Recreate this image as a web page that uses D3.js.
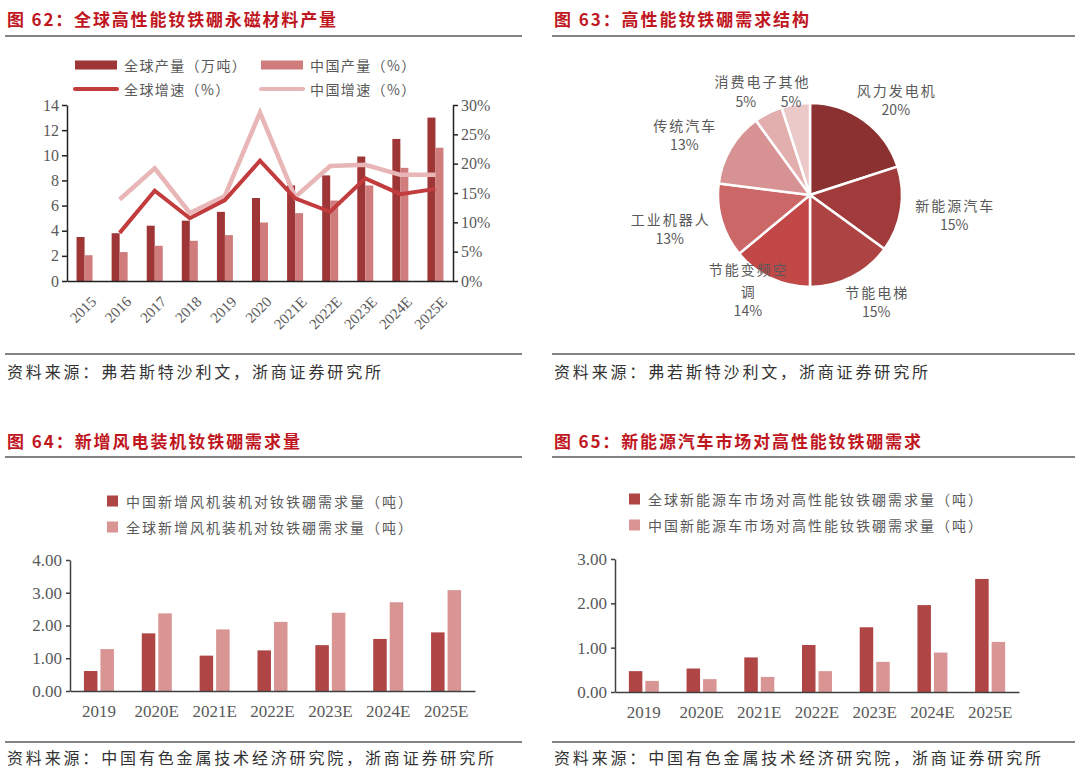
<!DOCTYPE html>
<meta charset="utf-8">
<html lang="zh"></html>
<script src="https://d3js.org/d3.v7.min.js"></script>
<style>
  body { margin: 0; background: #fff; }
  text { font-family: "Noto Sans CJK SC", sans-serif; }
  .num { font-family: "Liberation Serif", "DejaVu Serif", serif; fill: #595959; }
</style>
<div id="chart"></div>
<script>

    // ---- data ----
    // fig 62
    const years62 = ["2015", "2016", "2017", "2018", "2019", "2020", "2021E", "2022E", "2023E", "2024E", "2025E"];
    const globalOutput = [3.5, 3.8, 4.4, 4.8, 5.5, 6.6, 7.6, 8.4, 9.9, 11.3, 13.0];
    const chinaOutput = [2.05, 2.3, 2.8, 3.2, 3.65, 4.65, 5.4, 6.4, 7.6, 9.0, 10.6];
    const globalGrowth = [null, 8.2, 15.4, 10.7, 13.8, 20.5, 14.1, 11.8, 17.5, 14.8, 15.7];
    const chinaGrowth = [null, 13.9, 19.2, 11.6, 14.5, 28.7, 14.3, 19.6, 19.8, 18.1, 18.1];
    const legend62 = ["全球产量（万吨）", "中国产量（%）", "全球增速（%）", "中国增速（%）"];

    // fig 63
    const pieNames = ["风力发电机", "新能源汽车", "节能电梯", "节能变频空调", "工业机器人", "传统汽车", "消费电子", "其他"];
    const pieValues = [20, 15, 15, 14, 13, 13, 5, 5];
    const pieColors = ["#8c3131", "#a13a3a", "#ae4343", "#c24848", "#cc6767", "#d79393", "#e2aeae", "#ebc9c9"];

    // fig 64
    const years64 = ["2019", "2020E", "2021E", "2022E", "2023E", "2024E", "2025E"];
    const chinaWind = [0.61, 1.76, 1.08, 1.24, 1.40, 1.59, 1.79];
    const globalWind = [1.28, 2.37, 1.88, 2.11, 2.39, 2.71, 3.08];
    const legend64 = ["中国新增风机装机对钕铁硼需求量（吨）", "全球新增风机装机对钕铁硼需求量（吨）"];

    // fig 65
    const globalNev = [0.47, 0.53, 0.78, 1.06, 1.46, 1.96, 2.55];
    const chinaNev = [0.25, 0.29, 0.34, 0.47, 0.68, 0.89, 1.13];
    const legend65 = ["全球新能源车市场对高性能钕铁硼需求量（吨）", "中国新能源车市场对高性能钕铁硼需求量（吨）"];

    const titles = ["图 62：全球高性能钕铁硼永磁材料产量", "图 63：高性能钕铁硼需求结构",
                    "图 64：新增风电装机钕铁硼需求量", "图 65：新能源汽车市场对高性能钕铁硼需求"];
    const sources = ["资料来源：弗若斯特沙利文，浙商证券研究所", "资料来源：弗若斯特沙利文，浙商证券研究所",
                     "资料来源：中国有色金属技术经济研究院，浙商证券研究所", "资料来源：中国有色金属技术经济研究院，浙商证券研究所"];

    const svg = d3.select("#chart")
        .append("svg")
            .attr("width", 1080)
            .attr("height", 783);
    svg.append("rect").attr("width", 1080).attr("height", 783).attr("fill", "#fff");

    // ---- panel frames: titles, rules, sources ----
    const panels = [
        {x0: 5, x1: 522, ty: 18, ly: 36, sy: 354, cy: 371, tw: 329, sw: 374},
        {x0: 552, x1: 1075, ty: 18, ly: 36, sy: 354, cy: 371, tw: 255, sw: 374},
        {x0: 5, x1: 522, ty: 440, ly: 457, sy: 742, cy: 757, tw: 293, sw: 487},
        {x0: 552, x1: 1075, ty: 440, ly: 457, sy: 742, cy: 757, tw: 367, sw: 487}
    ];
    panels.forEach(function(p, i) {
        svg.append("text")
            .attr("x", p.x0 + 2).attr("y", p.ty)
            .attr("dominant-baseline", "central")
            .attr("fill", "#c0171f")
            .attr("font-weight", "bold")
            .attr("font-size", "17px")
            .attr("textLength", p.tw)
            .attr("lengthAdjust", "spacing")
            .text(titles[i]);
        svg.append("line")
            .attr("x1", p.x0).attr("x2", p.x1).attr("y1", p.ly).attr("y2", p.ly)
            .attr("stroke", "#5a5a5a").attr("stroke-width", 1.6);
        svg.append("line")
            .attr("x1", p.x0).attr("x2", p.x1).attr("y1", p.sy).attr("y2", p.sy)
            .attr("stroke", "#5a5a5a").attr("stroke-width", 1.6);
        svg.append("text")
            .attr("x", p.x0 + 2).attr("y", p.cy)
            .attr("dominant-baseline", "central")
            .attr("fill", "#333")
            .attr("font-size", "16px")
            .attr("textLength", p.sw)
            .attr("lengthAdjust", "spacing")
            .text(sources[i]);
    });

    function styleAxis(g, color) {
        g.select(".domain").attr("stroke", color).attr("stroke-width", 1.5);
        g.selectAll(".tick line").attr("stroke", color).attr("stroke-width", 1.5);
        g.selectAll(".tick text").attr("class", "num").attr("fill", "#595959");
    }

    // ---- fig 62 ----
    const x62 = d3.scaleBand().domain(years62).range([67, 453]);
    const yL62 = d3.scaleLinear().domain([0, 14]).range([281, 105]);
    const yR62 = d3.scaleLinear().domain([0, 30]).range([281, 105]);
    const bw62 = 8;
    const cx62 = function(d) { return x62(d) + x62.bandwidth() / 2; };

    svg.append("g").selectAll("rect.g")
        .data(years62).enter().append("rect")
            .attr("x", function(d) { return cx62(d) - bw62; })
            .attr("y", function(d, i) { return yL62(globalOutput[i]); })
            .attr("width", bw62)
            .attr("height", function(d, i) { return yL62(0) - yL62(globalOutput[i]); })
            .attr("fill", "#9e3536");
    svg.append("g").selectAll("rect.c")
        .data(years62).enter().append("rect")
            .attr("x", function(d) { return cx62(d); })
            .attr("y", function(d, i) { return yL62(chinaOutput[i]); })
            .attr("width", bw62)
            .attr("height", function(d, i) { return yL62(0) - yL62(chinaOutput[i]); })
            .attr("fill", "#d07c7c");

    const line62 = function(vals) {
        return d3.line()
            .defined(function(d, i) { return vals[i] !== null; })
            .x(function(d) { return cx62(d); })
            .y(function(d, i) { return yR62(vals[i]); })(years62);
    };
    svg.append("path").attr("d", line62(chinaGrowth))
        .attr("fill", "none").attr("stroke", "#e8b6b6").attr("stroke-width", 4.5);
    svg.append("path").attr("d", line62(globalGrowth))
        .attr("fill", "none").attr("stroke", "#c23b3d").attr("stroke-width", 4);

    const axL62 = svg.append("g")
        .attr("transform", "translate(67,0)")
        .call(d3.axisLeft(yL62).tickValues(d3.range(0, 15, 2)).tickSize(5).tickSizeOuter(0).tickPadding(3));
    styleAxis(axL62, "#222");
    axL62.selectAll(".tick text").attr("font-size", "16px");
    const axR62 = svg.append("g")
        .attr("transform", "translate(453,0)")
        .call(d3.axisRight(yR62).tickValues(d3.range(0, 31, 5)).tickSize(5).tickSizeOuter(0).tickPadding(3)
            .tickFormat(function(d) { return d + "%"; }));
    styleAxis(axR62, "#222");
    axR62.selectAll(".tick text").attr("font-size", "16px");
    const axB62 = svg.append("g")
        .attr("transform", "translate(0,281)")
        .call(d3.axisBottom(x62).tickSize(0).tickSizeOuter(0));
    styleAxis(axB62, "#222");
    axB62.selectAll(".tick text")
        .attr("font-size", "15px")
        .attr("text-anchor", "end")
        .attr("transform", "translate(3,12)rotate(-45)");

    // legend 62
    const leg62 = [
        {x: 75, y: 65, type: "rect", color: "#9e3536"},
        {x: 261, y: 65, type: "rect", color: "#d07c7c"},
        {x: 75, y: 89, type: "line", color: "#c23b3d"},
        {x: 261, y: 89, type: "line", color: "#e8b6b6"}
    ];
    leg62.forEach(function(l, i) {
        if (l.type === "rect") {
            svg.append("rect").attr("x", l.x).attr("y", l.y - 4.5).attr("width", 42).attr("height", 9).attr("fill", l.color);
        } else {
            svg.append("line").attr("x1", l.x).attr("x2", l.x + 42).attr("y1", l.y).attr("y2", l.y)
                .attr("stroke", l.color).attr("stroke-width", 4).attr("stroke-linecap", "round");
        }
        svg.append("text").attr("x", l.x + 49).attr("y", l.y)
            .attr("dominant-baseline", "central")
            .attr("font-size", "14px").attr("letter-spacing", "1.4px")
            .attr("fill", "#595959")
            .text(legend62[i]);
    });

    // ---- fig 63 pie ----
    const pcx = 810, pcy = 195, pr = 92;
    const arcs = d3.pie().sort(null).value(function(d) { return d; })(pieValues);
    const arc = d3.arc().innerRadius(0).outerRadius(pr);
    const pieG = svg.append("g").attr("transform", "translate(" + pcx + "," + pcy + ")");
    pieG.selectAll("path")
        .data(arcs).enter().append("path")
            .attr("d", arc)
            .attr("fill", function(d, i) { return pieColors[i]; })
            .attr("stroke", "#fff")
            .attr("stroke-width", 2.5);

    const Rx = 146, Ry = 119;
    const labelPos = function(a) {
        const m = (a.startAngle + a.endAngle) / 2;
        return [pcx + Rx * Math.sin(m), pcy - Ry * Math.cos(m)];
    };
    const nameStyle = function(t) {
        return t.attr("text-anchor", "middle").attr("dominant-baseline", "central")
            .attr("font-size", "14px").attr("letter-spacing", "2px").attr("fill", "#595959");
    };
    const pctStyle = function(t) {
        return t.attr("text-anchor", "middle").attr("dominant-baseline", "central")
            .attr("font-family", "Liberation Sans, Arial, sans-serif")
            .attr("font-size", "14px").attr("fill", "#595959");
    };
    arcs.forEach(function(a, i) {
        const p = labelPos(a);
        if (i < 6) {
            let lines = [pieNames[i]];
            if (pieNames[i].length > 5) lines = [pieNames[i].slice(0, 5), pieNames[i].slice(5)];
            const pctY = p[1] + 10 - (lines.length > 1 ? 3 : 0);
            lines.forEach(function(s, k) {
                nameStyle(svg.append("text"))
                    .attr("x", p[0] + 1).attr("y", pctY - 20 * (lines.length - k) + (k === lines.length - 1 ? 1 : 0) - (lines.length > 1 && k === 0 ? 1 : 0))
                    .text(s);
            });
            pctStyle(svg.append("text")).attr("x", p[0]).attr("y", pctY).text(pieValues[i] + "%");
        }
    });
    // two small slices share one label line
    const pA = labelPos(arcs[6]), pB = labelPos(arcs[7]);
    const smallY = pA[1] + 12;
    pctStyle(svg.append("text")).attr("x", pA[0] + 2).attr("y", smallY).text(pieValues[6] + "%");
    pctStyle(svg.append("text")).attr("x", pB[0] + 4).attr("y", smallY).text(pieValues[7] + "%");
    nameStyle(svg.append("text")).attr("x", (pA[0] + pB[0]) / 2 - 3).attr("y", smallY - 20)
        .text(pieNames[6] + pieNames[7]);

    // ---- grouped bar charts 64 / 65 ----
    function groupedBars(opt) {
        const x = d3.scaleBand().domain(years64).range([opt.left, opt.right]);
        const y = d3.scaleLinear().domain([0, opt.max]).range([opt.bottom, opt.top]);
        const bw = 13.5, gap = 3;
        const cx = function(d) { return x(d) + x.bandwidth() / 2; };
        svg.append("g").selectAll("rect")
            .data(years64).enter().append("rect")
                .attr("x", function(d) { return cx(d) - gap / 2 - bw; })
                .attr("y", function(d, i) { return y(opt.a[i]); })
                .attr("width", bw)
                .attr("height", function(d, i) { return y(0) - y(opt.a[i]); })
                .attr("fill", "#b04545");
        svg.append("g").selectAll("rect")
            .data(years64).enter().append("rect")
                .attr("x", function(d) { return cx(d) + gap / 2; })
                .attr("y", function(d, i) { return y(opt.b[i]); })
                .attr("width", bw)
                .attr("height", function(d, i) { return y(0) - y(opt.b[i]); })
                .attr("fill", "#d99494");
        const axL = svg.append("g")
            .attr("transform", "translate(" + opt.left + ",0)")
            .call(d3.axisLeft(y).tickValues(d3.range(0, opt.max + 1, 1)).tickSize(4).tickSizeOuter(0)
                .tickPadding(4).tickFormat(d3.format(".2f")));
        styleAxis(axL, "#404040");
        axL.selectAll(".tick text").attr("font-size", "17px");
        const axB = svg.append("g")
            .attr("transform", "translate(0," + opt.bottom + ")")
            .call(d3.axisBottom(x).tickSize(0).tickSizeOuter(0).tickPadding(14));
        styleAxis(axB, "#404040");
        axB.selectAll(".tick text").attr("font-size", "17px");
        // legend
        [["#b04545", opt.legend[0]], ["#d99494", opt.legend[1]]].forEach(function(l, i) {
            const ly = opt.legY + i * 26;
            svg.append("rect").attr("x", opt.legX).attr("y", ly - 5.5).attr("width", 11).attr("height", 11).attr("fill", l[0]);
            svg.append("text").attr("x", opt.legX + 19).attr("y", ly)
                .attr("dominant-baseline", "central")
                .attr("font-size", "14px").attr("letter-spacing", "2px")
                .attr("fill", "#595959")
                .text(l[1]);
        });
    }
    groupedBars({left: 70, right: 475, top: 560, bottom: 691, max: 4, a: chinaWind, b: globalWind,
                 legend: legend64, legX: 107, legY: 501});
    groupedBars({left: 615, right: 1019, top: 559, bottom: 692, max: 3, a: globalNev, b: chinaNev,
                 legend: legend65, legX: 629, legY: 499});

</script>
